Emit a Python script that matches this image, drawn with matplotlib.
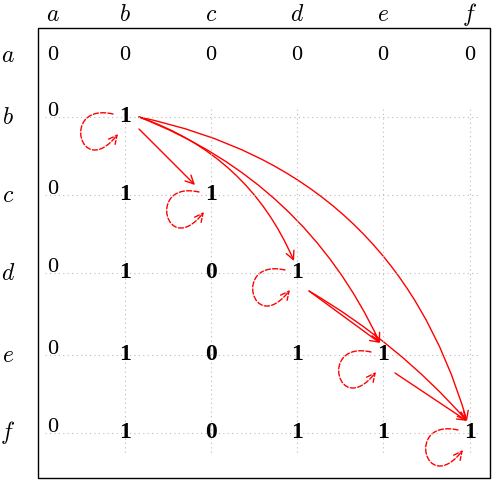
import matplotlib
matplotlib.use("Agg")
import matplotlib.pyplot as plt
from matplotlib.patches import FancyArrowPatch, Rectangle
from matplotlib.path import Path

plt.rcParams["mathtext.fontset"] = "cm"

labels = ["a", "b", "c", "d", "e", "f"]
matrix = [
    [0, 0, 0, 0, 0, 0],
    [0, 1, None, None, None, None],
    [0, 1, 1, None, None, None],
    [0, 1, 0, 1, None, None],
    [0, 1, 0, 1, 1, None],
    [0, 1, 0, 1, 1, 1],
]
edges = [(1, 2, 0.0), (1, 3, -0.22), (1, 4, -0.2), (1, 5, -0.3),
         (3, 4, 0.0), (3, 5, -0.08), (4, 5, 0.0)]
loops = [1, 2, 3, 4, 5]

col_x = [53, 125, 211, 297, 383, 470]
row_y = [55, 117, 195, 273, 355, 433]

fig = plt.figure(figsize=(5.04, 4.8), dpi=100)
ax = fig.add_axes([0, 0, 1, 1])
ax.set_xlim(0, 504)
ax.set_ylim(480, 0)
ax.axis("off")

ax.add_patch(Rectangle((38, 28), 452, 450, fill=False, lw=1.0, color="black"))

for x in col_x[1:]:
    ax.plot([x, x], [row_y[1] - 8, 455], ls=(0, (1, 3)), color="#bbbbbb", lw=0.8)
for y in row_y[1:]:
    ax.plot([45, 480], [y, y], ls=(0, (1, 3)), color="#bbbbbb", lw=0.8)

for i, l in enumerate(labels):
    ax.text(col_x[i], 14, f"${l}$", ha="center", va="center", fontsize=17)
    ax.text(8, row_y[i], f"${l}$", ha="center", va="center", fontsize=17)

for r, row in enumerate(matrix):
    for c, v in enumerate(row):
        if v is None:
            continue
        if r == 0:
            ax.text(col_x[c], row_y[r], f"{v}", ha="center", va="center", fontsize=16,
                    family="Liberation Serif")
        elif c == 0:
            ax.text(col_x[c], row_y[r] - 5, f"{v}", ha="center", va="center", fontsize=16,
                    family="Liberation Serif")
        else:
            ax.text(col_x[c], row_y[r], f"{v}", ha="center", va="center", fontsize=17,
                    family="Liberation Serif", fontweight="bold")

red = "#ff0000"
for a, b, rad in edges:
    if a == 1:
        p1 = (col_x[a] + 14, row_y[a] + (12 if b == 2 else 0))
    else:
        p1 = (col_x[a] + 12, row_y[a] + 18)
    p2 = (col_x[b] - 3, row_y[b] - 12)
    if b == 2:
        p2 = (col_x[b] - 16, row_y[b] - 10)
    ax.add_patch(FancyArrowPatch(p1, p2, connectionstyle=f"arc3,rad={rad}",
                                 arrowstyle="->,head_length=6,head_width=3",
                                 color=red, lw=1.0, shrinkA=0, shrinkB=0))

for k in loops:
    x, y = col_x[k], row_y[k]
    verts = [(x - 12, y - 3), (x - 65, y - 15), (x - 45, y + 65), (x - 7, y + 17)]
    path = Path(verts, [Path.MOVETO, Path.CURVE4, Path.CURVE4, Path.CURVE4])
    ax.add_patch(FancyArrowPatch(path=path, arrowstyle="->,head_length=6,head_width=3",
                                 color=red, lw=1.0, ls="--"))

fig.savefig("out.png", dpi=100)
